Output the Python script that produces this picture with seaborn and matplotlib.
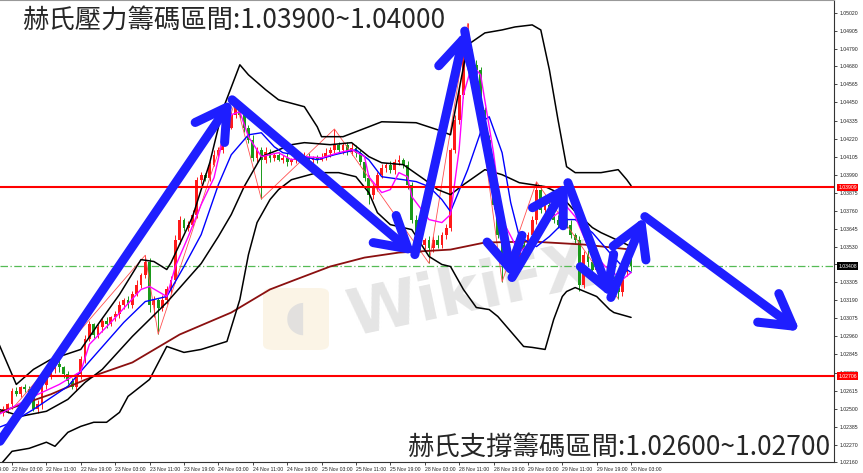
import numpy as np
import pandas as pd
import seaborn as sns
import matplotlib.pyplot as plt
from matplotlib.patches import FancyBboxPatch

# hourly candles, bar 0 = 22 Nov 03:00 (weekend bars skipped)
first_bar = -2
first_open = 1.02470
closes = [
    1.02495, 1.02527, 1.02610, 1.02591, 1.02635, 1.02623, 1.02604, 1.02495, 1.02527, 1.02648,
    1.02699, 1.02750, 1.02782, 1.02763, 1.02718, 1.02674, 1.02635, 1.02718, 1.02813, 1.02941,
    1.03036, 1.02972, 1.03017, 1.03055, 1.03036, 1.03081, 1.03100, 1.03163, 1.03195, 1.03163,
    1.03227, 1.03290, 1.03354, 1.03437, 1.03163, 1.03195, 1.03144, 1.03195, 1.03259, 1.03322,
    1.03577, 1.03704, 1.03653, 1.03672, 1.03736, 1.03958, 1.03990, 1.03971, 1.04054, 1.04117,
    1.04149, 1.04213, 1.04289, 1.04372, 1.04435, 1.04372, 1.04289, 1.04213, 1.04098, 1.04149,
    1.04085, 1.04136, 1.04098, 1.04117, 1.04085, 1.04098, 1.04073, 1.04085, 1.04098, 1.04085,
    1.04105, 1.04085, 1.04098, 1.04085, 1.04105, 1.04130, 1.04149, 1.04181, 1.04149, 1.04181,
    1.04136, 1.04162, 1.04130, 1.04073, 1.03971, 1.03863, 1.03907, 1.03990, 1.04035, 1.04054,
    1.04022, 1.04073, 1.04085, 1.04054, 1.03926, 1.03704, 1.03608, 1.03545, 1.03577, 1.03526,
    1.03577, 1.03545, 1.03608, 1.03653, 1.04149, 1.04340, 1.04499, 1.04721, 1.04753, 1.04690,
    1.04658, 1.04403, 1.04213, 1.03990, 1.03799, 1.03608, 1.03418, 1.03437, 1.03481, 1.03449,
    1.03545, 1.03513, 1.03608, 1.03704, 1.03895, 1.03767, 1.03799, 1.03736, 1.03704, 1.03672,
    1.03691, 1.03672, 1.03608, 1.03577, 1.03290, 1.03481, 1.03437, 1.03386, 1.03418, 1.03335,
    1.03303, 1.03322, 1.03271, 1.03240, 1.03367, 1.03494, 1.03408,
]
# wick lengths in pips above / below the body
wick_up = [
    2, 1, 2, 3, 1, 2, 2, 1, 3, 2,  1, 2, 2, 3, 1, 2, 2, 1, 2, 3,
    2, 1, 2, 2, 3, 1, 2, 2, 1, 2,  2, 3, 1, 4, 2, 2, 1, 3, 2, 2,
    3, 2, 1, 2, 3, 2, 2, 1, 2, 3,  2, 1, 2, 2, 3, 2, 1, 2, 3, 2,
    2, 3, 2, 1, 2, 2, 3, 1, 2, 2,  3, 2, 1, 2, 2, 3, 2, 10, 2, 1,
    2, 3, 2, 2, 1, 2, 3, 2, 2, 1,  2, 2, 3, 1, 2, 2, 3, 2, 1, 2,
    2, 3, 2, 2, 1, 3, 4, 6, 20, 4,  3, 2, 2, 3, 1, 2, 2, 3, 2, 2,
    3, 2, 2, 2, 5, 3, 2, 2, 1, 3,  2, 2, 3, 1, 2, 2, 3, 2, 1, 2,
    2, 3, 2, 2, 3, 2, 2,
]
wick_dn = [
    2, 2, 3, 1, 2, 2, 2, 1, 2, 3,  2, 1, 2, 3, 2, 2, 1, 2, 3, 2,
    1, 2, 2, 3, 2, 1, 2, 2, 3, 2,  2, 1, 2, 2, 5, 8, 17, 2, 3, 2,
    2, 3, 2, 2, 1, 2, 3, 2, 2, 1,  2, 2, 3, 1, 2, 2, 3, 2, 2, 3,
    25, 2, 3, 2, 1, 2, 3, 2, 2, 1,  2, 3, 2, 2, 1, 2, 3, 2, 2, 3,
    2, 2, 3, 2, 2, 6, 3, 2, 2, 3,  2, 3, 2, 2, 3, 2, 3, 5, 3, 10,
    3, 2, 2, 3, 2, 2, 3, 2, 2, 3,  2, 3, 3, 2, 3, 2, 11, 3, 2, 2,
    2, 3, 2, 2, 3, 2, 2, 3, 2, 2,  3, 2, 2, 3, 4, 2, 3, 2, 2, 3,
    2, 2, 3, 4, 2, 2, 3,
]

# indicator lines (bar index, price)
bb_up_bars = [-3, 1, 5, 9, 16, 20, 25, 30, 33, 36, 37, 42, 46, 49, 53, 55, 59, 62, 68, 71,
              72, 77, 83, 86, 94, 99, 102, 104, 106, 110, 114, 117, 121, 123, 125, 127, 129, 131, 137, 141,
              143, 144]
bb_up = [1.02909, 1.02654, 1.02750, 1.02813, 1.02877, 1.03036, 1.03227, 1.03449, 1.03437, 1.03386,
         1.03430, 1.03723, 1.04066, 1.04403, 1.04690, 1.04626, 1.04531, 1.04467, 1.04423, 1.04295,
         1.04232, 1.04232, 1.04295, 1.04327, 1.04321, 1.04276, 1.04244, 1.04531, 1.04817, 1.04893,
         1.04912, 1.04931, 1.04944, 1.04912, 1.04658, 1.04340, 1.04041, 1.04003, 1.04003, 1.04022,
         1.03958, 1.03920]
bb_mid_bars = [-3, 2, 8, 13, 17, 21, 28, 36, 44, 48, 51, 54, 58, 65, 68, 74, 79, 83, 86, 91,
               96, 99, 102, 105, 110, 114, 118, 124, 127, 131, 135, 137, 142, 144]
bb_mid = [1.02495, 1.02451, 1.02483, 1.02559, 1.02667, 1.02750, 1.02960, 1.03176, 1.03424, 1.03596,
          1.03736, 1.03914, 1.04105, 1.04181, 1.04194, 1.04181, 1.04194, 1.04105, 1.04066, 1.04054,
          1.03958, 1.03895, 1.03863, 1.03926, 1.04022, 1.03990, 1.03939, 1.03914, 1.03876, 1.03755,
          1.03653, 1.03621, 1.03558, 1.03532]
bb_lo_bars = [-3, 0, 4, 8, 10, 13, 16, 19, 22, 25, 27, 32, 36, 40, 44, 50, 53, 55, 57, 60,
              62, 65, 71, 76, 80, 83, 85, 88, 93, 97, 100, 102, 105, 108, 111, 113, 117, 119, 121, 124,
              126, 128, 129, 131, 136, 139, 140, 144]
bb_lo = [1.02133, 1.02228, 1.02247, 1.02286, 1.02260, 1.02349, 1.02387, 1.02413, 1.02413, 1.02476,
         1.02578, 1.02686, 1.02896, 1.02858, 1.02877, 1.02928, 1.03195, 1.03481, 1.03685, 1.03831,
         1.03895, 1.03958, 1.04003, 1.04003, 1.03977, 1.03876, 1.03748, 1.03672, 1.03640, 1.03469,
         1.03418, 1.03405, 1.03259, 1.03144, 1.03131, 1.03087, 1.02960, 1.02896, 1.02890, 1.02877,
         1.03068, 1.03214, 1.03246, 1.03271, 1.03214, 1.03131, 1.03112, 1.03081]
blue_bars = [-3, 0, 5, 13, 17, 26, 31, 36, 40, 44, 48, 51, 55, 58, 61, 63, 66, 71, 75, 80,
             83, 86, 91, 94, 97, 100, 102, 106, 110, 111, 114, 116, 118, 122, 125, 129, 131, 135, 139, 142,
             144]
blue_ma = [1.02381, 1.02413, 1.02495, 1.02642, 1.02769, 1.03049, 1.03182, 1.03214, 1.03405, 1.03608,
           1.03926, 1.04117, 1.04244, 1.04257, 1.04168, 1.04130, 1.04117, 1.04085, 1.04117, 1.04149,
           1.04085, 1.03977, 1.03958, 1.03946, 1.03914, 1.03831, 1.03755, 1.04022, 1.04340, 1.04359,
           1.04130, 1.03812, 1.03596, 1.03532, 1.03596, 1.03704, 1.03704, 1.03621, 1.03494, 1.03405,
           1.03367]
mag_bars = [-3, 5, 11, 16, 18, 23, 30, 32, 36, 38, 41, 44, 47, 49, 51, 53, 55, 58, 62, 65,
            68, 72, 76, 79, 82, 83, 86, 88, 90, 92, 93, 97, 100, 102, 104, 105, 107, 109, 112, 114,
            118, 122, 125, 129, 131, 134, 138, 142, 144]
mag_ma = [1.02464, 1.02578, 1.02654, 1.02737, 1.02909, 1.03049, 1.03259, 1.03278, 1.03214, 1.03405,
          1.03596, 1.03799, 1.03971, 1.04213, 1.04372, 1.04391, 1.04232, 1.04105, 1.04130, 1.04085,
          1.04105, 1.04098, 1.04130, 1.04149, 1.04105, 1.03977, 1.03876, 1.03895, 1.04003, 1.03977,
          1.03850, 1.03704, 1.03685, 1.03736, 1.04149, 1.04499, 1.04690, 1.04626, 1.04130, 1.03704,
          1.03494, 1.03596, 1.03704, 1.03787, 1.03723, 1.03532, 1.03405, 1.03322, 1.03367]
slow_bars = [-3, 9, 20, 28, 39, 51, 60, 66, 74, 82, 90, 94, 102, 110, 121, 133, 144]
slow_ma = [1.02476, 1.02591, 1.02718, 1.02794, 1.02972, 1.03112, 1.03259, 1.03322, 1.03405, 1.03462,
           1.03494, 1.03500, 1.03513, 1.03558, 1.03564, 1.03545, 1.03513]

# zigzag swing bars (low, high, low, ...)
zz_bars = [0, 31, 34, 52, 58, 75, 97, 106, 114, 122, 141]

# hand drawn arrow path
arrow_bars = [-2.8, 51.2, 93.7, 105.3, 116.3, 129.3, 139.3, 147.2, 183.3]
arrow_prices = [1.02292, 1.04467, 1.03481, 1.04905, 1.03335, 1.03939, 1.03208, 1.03723, 1.02992]

resist_line = 1.03909
support_line = 1.02706
last_price = 1.03408

price_ticks = [1.05020, 1.04905, 1.04790, 1.04680, 1.04565, 1.04450, 1.04335, 1.04220, 1.04105,
               1.03990, 1.03875, 1.03760, 1.03645, 1.03530, 1.03420, 1.03305, 1.03190, 1.03075,
               1.02960, 1.02845, 1.02730, 1.02615, 1.02500, 1.02385, 1.02270, 1.02160]
time_labels = ["22 Nov 03:00", "22 Nov 11:00", "22 Nov 19:00", "23 Nov 03:00", "23 Nov 11:00",
               "23 Nov 19:00", "24 Nov 03:00", "24 Nov 11:00", "24 Nov 19:00", "25 Nov 03:00",
               "25 Nov 11:00", "25 Nov 19:00", "28 Nov 03:00", "28 Nov 11:00", "28 Nov 19:00",
               "29 Nov 03:00", "29 Nov 11:00", "29 Nov 19:00", "30 Nov 03:00"]

title_top = "赫氏壓力籌碼區間:1.03900~1.04000"
title_bottom = "赫氏支撐籌碼區間:1.02600~1.02700"

sns.set_style("white")
plt.rcParams['font.family'] = ['Liberation Sans', 'DejaVu Sans']
cjk = ['Noto Sans CJK TC', 'DejaVu Sans']
small = 3.7

bars = np.arange(first_bar, first_bar + len(closes))
c = np.array(closes)
o = np.r_[first_open, c[:-1]]
hi = np.maximum(o, c) + np.array(wick_up) * 1e-4
lo = np.minimum(o, c) - np.array(wick_dn) * 1e-4
col = np.where(c >= o, '#ff1a1a', '#1a991a')

fig = plt.figure(figsize=(8.63, 4.73), dpi=100)
ax = fig.add_axes([0, 11 / 473, 834 / 863, 462 / 473])

# watermark
ax.add_patch(FancyBboxPatch((263 / 863, 1 - 350 / 473), 66 / 863, 62 / 473,
                            boxstyle='round,pad=0,rounding_size=0.012', transform=fig.transFigure,
                            fc='#f9eed6', ec='none', alpha=0.6, zorder=0.3))
ax.text(296 / 863, 1 - 318 / 473, '◖', transform=fig.transFigure, fontsize=30,
        family='DejaVu Sans', color='#dcdcdc', alpha=0.8, ha='center', va='center', zorder=0.35)
ax.text(470 / 863, 1 - 292 / 473, 'WikiFX', transform=fig.transFigure, fontsize=46,
        fontweight='bold', family='DejaVu Sans', color='#d4d4d4', alpha=0.6, rotation=12,
        ha='center', va='center', zorder=0.4)

# levels
ax.axhline(last_price, color='#55bb55', lw=0.9, ls=(0, (6, 2, 1, 2)), zorder=1.5)
ax.axhline(resist_line, color='#ff0000', lw=1.5, zorder=4)
ax.axhline(support_line, color='#ff0000', lw=1.5, zorder=4)

# candles
ax.vlines(bars, lo, hi, colors=col, lw=0.7, zorder=2)
ax.bar(bars, np.maximum(np.abs(c - o), 2e-5), bottom=np.minimum(o, c), width=0.65,
       color=col, lw=0, zorder=2.1)

# zigzag
zz_vals = [lo[b - first_bar] if k % 2 == 0 else hi[b - first_bar] for k, b in enumerate(zz_bars)]
sns.lineplot(x=zz_bars, y=zz_vals, ax=ax, color='#ff5050', lw=0.6, zorder=2.5, legend=False)

# indicators
for xs, ys, colr, lw in [(slow_bars, slow_ma, '#8b1010', 1.3),
                         (bb_up_bars, bb_up, 'black', 1.1),
                         (bb_mid_bars, bb_mid, 'black', 1.1),
                         (bb_lo_bars, bb_lo, 'black', 1.1),
                         (blue_bars, blue_ma, '#0000ff', 1.0),
                         (mag_bars, mag_ma, '#ff00ff', 1.0)]:
    sns.lineplot(x=xs, y=ys, ax=ax, color=colr, lw=lw, zorder=3, legend=False)

# arrows
for k in range(len(arrow_bars) - 1):
    ax.annotate('', xy=(arrow_bars[k + 1], arrow_prices[k + 1]),
                xytext=(arrow_bars[k], arrow_prices[k]),
                arrowprops=dict(arrowstyle='->,head_length=0.55,head_width=0.32', lw=6.5,
                                color='#1e1eff', shrinkA=0, shrinkB=0, mutation_scale=40,
                                capstyle='round', joinstyle='round'),
                annotation_clip=False, zorder=6)

ax.set_xlim(-2.79, 191.2)
ax.set_ylim(1.021663, 1.051026)

ax.yaxis.tick_right()
ax.set_yticks(price_ticks)
ax.set_yticklabels([f'{v:.5f}' for v in price_ticks])
ax.set_xticks(np.arange(len(time_labels)) * 8)
ax.set_xticklabels(time_labels, ha='left')
ax.tick_params(axis='y', direction='out', length=2.5, width=0.6, pad=1.5, labelsize=small,
               labelcolor='#222222', right=True)
ax.tick_params(axis='x', direction='out', length=2.5, width=0.6, pad=1, labelsize=small,
               labelcolor='#222222', bottom=True)
ax.annotate('21 Nov 19:00', xy=(-8, 0), xycoords=('data', 'axes fraction'), xytext=(0, -3.5),
            textcoords='offset points', ha='left', va='top', fontsize=small, color='#222222',
            annotation_clip=False)
ax.set_xlabel('')
ax.set_ylabel('')
for side in ['right', 'bottom']:
    ax.spines[side].set_color('#333333')
    ax.spines[side].set_linewidth(0.8)
ax.spines['top'].set_color('#999999')
ax.spines['left'].set_visible(False)

for val, fc in [(resist_line, '#ff0000'), (support_line, '#ff0000'), (last_price, '#000000')]:
    ax.annotate(f'{val:.5f}', xy=(1, val), xycoords=('axes fraction', 'data'), xytext=(3, 0),
                textcoords='offset points', ha='left', va='center', fontsize=small, color='white',
                bbox=dict(boxstyle='square,pad=0.25', fc=fc, ec='none'), annotation_clip=False,
                zorder=10)

fig.text(22 / 863, 1 - 20 / 473, title_top, fontsize=19, family=cjk, ha='left', va='center')
fig.text(830 / 863, 1 - 447 / 473, title_bottom, fontsize=19, family=cjk, ha='right', va='center')

fig.savefig('out.png', dpi=100)
